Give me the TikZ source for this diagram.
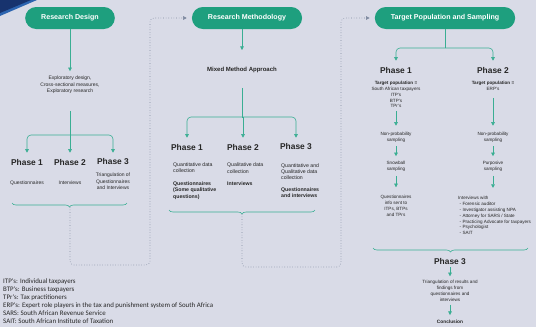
\documentclass[tikz,border=0pt]{standalone}
\usepackage{fontspec}
\setmainfont{Liberation Sans}
\newfontfamily\legendfont{Carlito}
\usetikzlibrary{arrows.meta,positioning,decorations.pathreplacing}

\definecolor{bgcol}{HTML}{D9DBE7}
\definecolor{pillgreen}{HTML}{1E9F7E}
\definecolor{linegreen}{HTML}{3AAE93}
\definecolor{dotgray}{HTML}{7F8AA0}
\definecolor{navyblue}{HTML}{17336E}
\definecolor{midblue}{HTML}{2C64B0}
\definecolor{txt}{HTML}{262626}

\tikzset{
  pill/.style={rounded corners=11pt, fill=pillgreen, text=white,
    font=\fontsize{7.1}{8}\selectfont\bfseries, minimum height=22pt, inner xsep=16pt},
  phase/.style={font=\fontsize{8.4}{10}\selectfont\bfseries, text=txt, inner sep=1pt},
  small/.style={font=\fontsize{5}{6.3}\selectfont, text=txt, align=center, inner sep=1pt},
  tiny/.style={font=\fontsize{4.6}{5.9}\selectfont, text=txt, align=center, inner sep=1pt},
  link/.style={draw=linegreen, line width=0.6pt},
  arr/.style={link, ->},
  dotlink/.style={draw=dotgray, line width=0.6pt, dotted, rounded corners=4pt, ->},
  brc/.style={link, decorate, decoration={brace, mirror, amplitude=4pt}},
}

\begin{document}
\begin{tikzpicture}[x=1pt, y=-1pt, >={Triangle[length=3.6pt,width=3.6pt]}]

% Hintergrund und Ecke
\fill[bgcol] (0,0) rectangle (536,327);
\fill[midblue] (0,0) -- (37,0) -- (0,16) -- cycle;
\fill[navyblue] (0,0) -- (31,0) -- (0,13) -- cycle;
\useasboundingbox (0,0) rectangle (536,327);

% Überschriften
\node[pill] (rd) at (70,18) {Research Design};
\node[pill] (rm) at (247,18) {Research Methodology};
\node[pill] (tps) at (445,18) {Target Population and Sampling};

% Spalte 1: Research Design
\node[small] (expl) at (70,85) {Exploratory design,\\Cross-sectional measures,\\Exploratory research};
\coordinate (b1) at (70,135);
\node[phase] (d1) at (27,162) {Phase 1};
\node[phase] (d2) at (70,162) {Phase 2};
\node[phase] (d3) at (113,162) {Phase 3};
\node[small] (dq) at (27,183) {Questionnaires};
\node[small] (di) at (70,183) {Interviews};
\node[small] (dt) at (113,181.5) {Triangulation of\\Questionnaires\\and Interviews};
\coordinate (dbl) at (12,203);
\coordinate (dbr) at (127,203);
\coordinate (dtip) at (70,207);
\coordinate (dturn) at (150,265);

\draw[arr, shorten >=4pt] (rd) -- (expl);
\draw[link, shorten <=16pt] (expl) -- (b1);
\draw[arr, rounded corners=4pt, shorten >=5pt] (b1) -| (d1);
\draw[arr, shorten >=5pt] (b1) -- (d2);
\draw[arr, rounded corners=4pt, shorten >=5pt] (b1) -| (d3);
\draw[brc] (dbl) -- (dbr);
\draw[dotlink, shorten >=5pt] (dtip) |- (dturn) |- (rm);

% Spalte 2: Research Methodology
\node[font=\fontsize{6}{7}\selectfont\bfseries, text=txt, inner sep=1pt] (mma) at (242,70) {Mixed Method Approach};
\coordinate (b2) at (242,117);
\node[phase] (m1) at (187,147) {Phase 1};
\node[phase] (m2) at (243,147) {Phase 2};
\node[phase] (m3) at (296,147) {Phase 3};
\node[small, align=left, anchor=west, font=\fontsize{5.2}{6.3}\selectfont] (mt1) at (172,181)
  {Quantitative data\\collection\\[6.5pt]\bfseries Questionnaires\\\bfseries (Some qualitative\\\bfseries questions)};
\node[small, align=left, anchor=west, font=\fontsize{5.2}{6.3}\selectfont] (mt2) at (226,174.5)
  {Qualitative data\\collection\\[6.5pt]\bfseries Interviews};
\node[small, align=left, anchor=west, font=\fontsize{5.2}{6.3}\selectfont] (mt3) at (280,180.5)
  {Quantitative and\\Qualitative data\\collection\\[5.5pt]\bfseries Questionnaires\\\bfseries and interviews};
\coordinate (mbl) at (169,210);
\coordinate (mbr) at (315,210);
\coordinate (mtip) at (242,214);
\coordinate (mturn) at (341,267);

\draw[arr, shorten >=16pt] (rm.south -| mma) -- (mma);
\draw[link, shorten <=14pt] (mma) -- (b2);
\draw[arr, rounded corners=4pt, shorten >=5pt] (b2) -| (m1);
\draw[arr, shorten >=5pt] (b2) -- (m2 |- b2) -- (m2);
\draw[arr, rounded corners=4pt, shorten >=5pt] (b2) -| (m3);
\draw[brc] (mbl) -- (mbr);
\draw[dotlink, shorten >=5pt] (mtip) |- (mturn) |- (tps);

% Spalte 3: Target Population and Sampling
\coordinate (b3) at (445,48);
\node[phase] (t1) at (396,70) {Phase 1};
\node[phase] (t2) at (493,70) {Phase 2};
\node[tiny] (tp1) at (396,94.5) {\bfseries Target population =\\South African taxpayers\\ITP's\\BTP's\\TPr's};
\node[tiny] (tn1) at (396,137) {Non-probability\\sampling};
\node[tiny] (ts1) at (396,166.5) {Snowball\\sampling};
\node[tiny] (tq1) at (396,206) {Questionnaires\\info sent to\\ITPs, BTPs\\and TPrs};
\node[tiny] (tp2) at (493,86) {\bfseries Target population =\\ERP's};
\node[tiny] (tn2) at (493,137) {Non-probability\\sampling};
\node[tiny] (tu2) at (493,166.5) {Purposive\\sampling};
\node[tiny, align=left, anchor=west] (ti2) at (457,215.5) {Interviews with\\
  \hspace*{1.5pt}- Forensic auditor\\
  \hspace*{1.5pt}- Investigator assisting NPA\\
  \hspace*{1.5pt}- Attorney for SARS / State\\
  \hspace*{1.5pt}- Practicing Advocate for taxpayers\\
  \hspace*{1.5pt}- Psychologist\\
  \hspace*{1.5pt}- SAIT};
\coordinate (tbl) at (373,248);
\coordinate (tbr) at (528,248);
\node[phase] (t3) at (450,261) {Phase 3};
\node[tiny] (tri) at (450,291) {Triangulation of results and\\findings from\\questionnaires and\\interviews};
\node[tiny, font=\fontsize{4.8}{5.9}\selectfont\bfseries] (concl) at (450,322) {Conclusion};

\draw[link] (tps) -- (b3);
\draw[arr, rounded corners=4pt, shorten >=5pt] (b3) -| (t1);
\draw[arr, rounded corners=4pt, shorten >=5pt] (b3) -| (t2);
\draw[arr, shorten <=2pt, shorten >=5pt] (tp1) -- (tn1);
\draw[arr, shorten <=3pt, shorten >=4pt] (tn1) -- (ts1);
\draw[arr, shorten <=3pt, shorten >=7pt] (ts1) -- (tq1);
\draw[arr, shorten <=6pt, shorten >=5pt] (tp2) -- (tn2);
\draw[arr, shorten <=3pt, shorten >=4pt] (tn2) -- (tu2);
\draw[arr, shorten <=3pt, shorten >=7pt] (tu2) -- (tu2 |- ti2.north);
\draw[brc] (tbl) -- (tbr);
\draw[arr, shorten <=2pt, shorten >=3pt] (t3) -- (tri);
\draw[arr, shorten <=2pt, shorten >=4pt] (tri) -- (concl);

% Legende
\node[anchor=north west, inner sep=0pt, align=left, text=txt,
  font=\legendfont\fontsize{6.9}{7.9}\selectfont] (legend) at (3,279)
  {ITP's: Individual taxpayers\\
   BTP's: Business taxpayers\\
   TPr's: Tax practitioners\\
   ERP's: Expert role players in the tax and punishment system of South Africa\\
   SARS: South African Revenue Service\\
   SAIT: South African Institute of Taxation};

\end{tikzpicture}
\end{document}
